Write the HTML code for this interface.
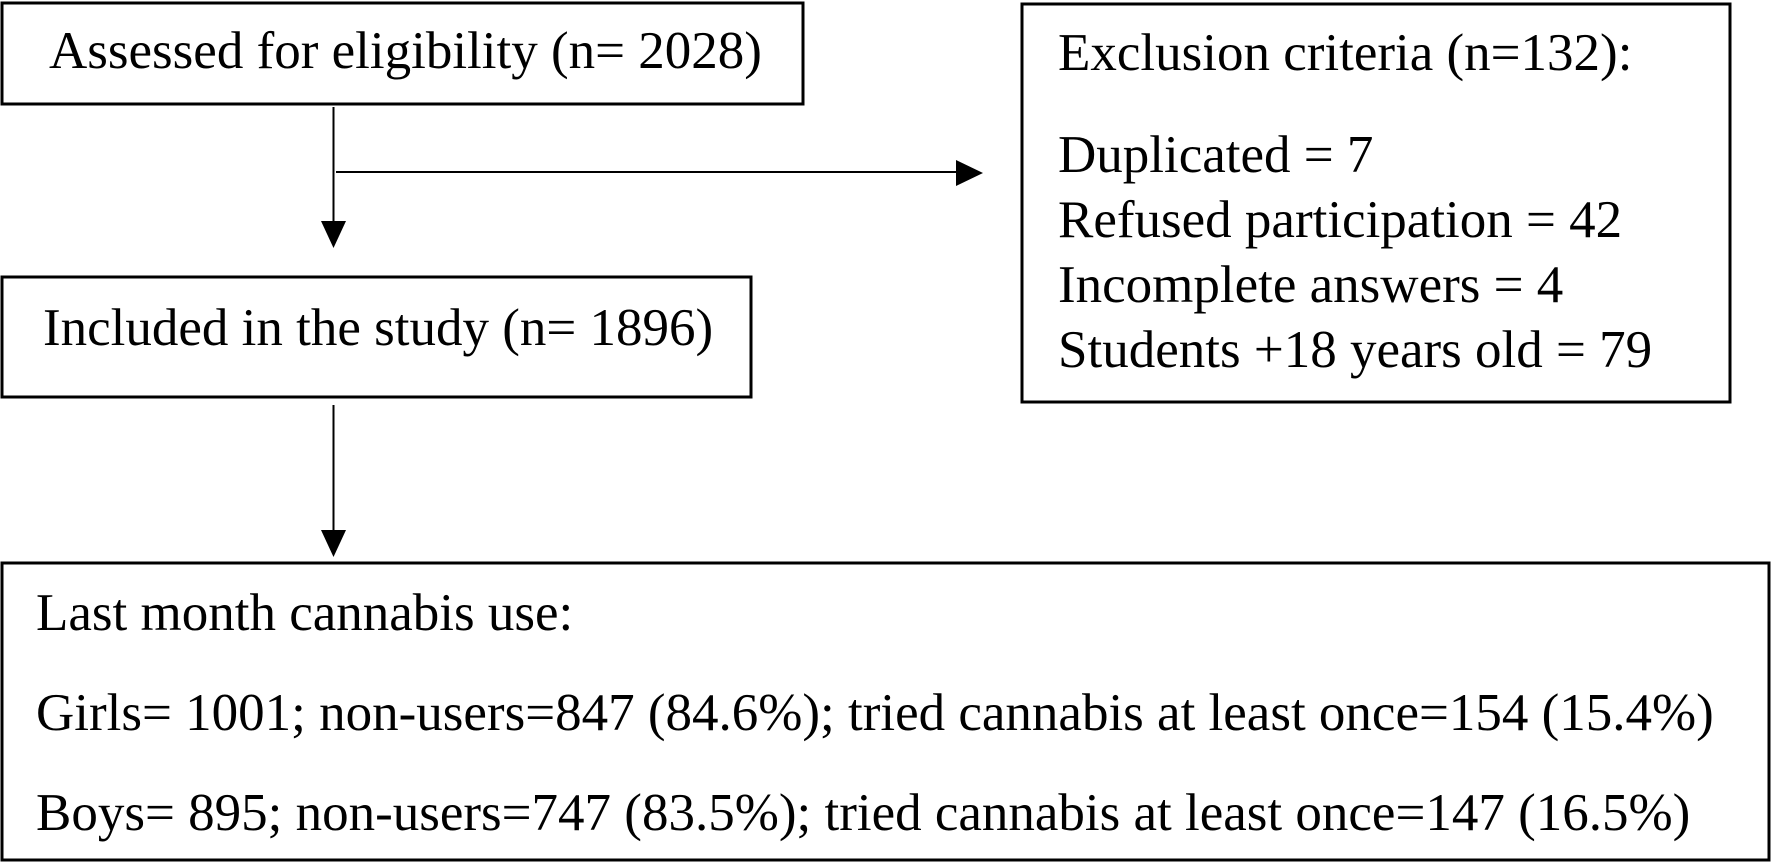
<!DOCTYPE html>
<html><head><meta charset="utf-8"><style>
html,body{margin:0;padding:0;background:#fff;}
svg{display:block;}
text{font-family:"Liberation Serif","Times New Roman",serif;font-size:53px;fill:#000;}
</style></head><body>
<svg width="1772" height="862" viewBox="0 0 1772 862">
<g fill="none" stroke="#000" stroke-width="3">
<rect x="2" y="3" width="801" height="101"/>
<rect x="1022" y="4" width="708" height="398"/>
<rect x="2" y="277" width="749" height="120"/>
<rect x="2" y="563" width="1767" height="297"/>
</g>
<g stroke="#000" stroke-width="2">
<line x1="333.5" y1="107" x2="333.5" y2="224"/>
<line x1="336" y1="172" x2="960" y2="172"/>
<line x1="333.5" y1="405" x2="333.5" y2="533"/>
</g>
<polygon points="321,221 346,221 333.5,248" fill="#000"/>
<polygon points="956,160 956,186 983,173" fill="#000"/>
<polygon points="321,530 346,530 333.5,557" fill="#000"/>
<text x="49" y="68">Assessed for eligibility (n= 2028)</text>
<text x="43" y="345">Included in the study (n= 1896)</text>
<text x="1058" y="70">Exclusion criteria (n=132):</text>
<text x="1058" y="172">Duplicated = 7</text>
<text x="1058" y="237">Refused participation = 42</text>
<text x="1058" y="302">Incomplete answers = 4</text>
<text x="1058" y="367">Students +18 years old = 79</text>
<text x="36" y="630">Last month cannabis use:</text>
<text x="36" y="730">Girls= 1001; non-users=847 (84.6%); tried cannabis at least once=154 (15.4%)</text>
<text x="36" y="830">Boys= 895; non-users=747 (83.5%); tried cannabis at least once=147 (16.5%)</text>
</svg>
</body></html>
